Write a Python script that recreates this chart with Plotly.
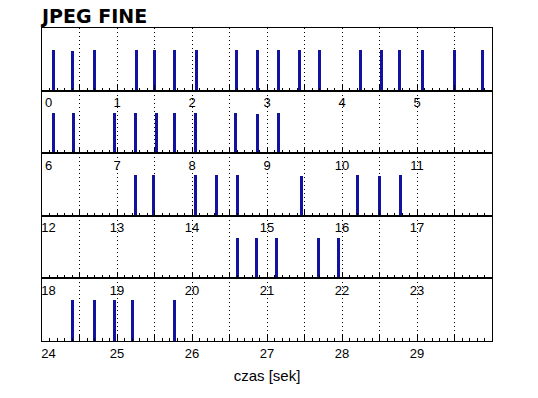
import plotly.graph_objects as go
from plotly.subplots import make_subplots

# Event times (seconds)
frame_times = [
    0.15, 0.41, 0.70, 1.26, 1.50, 1.76, 2.06, 2.59, 2.87, 3.15, 3.43, 3.70,
    4.24, 4.52, 4.77, 5.07, 5.50, 5.87,
    6.15, 6.42, 6.96, 7.24, 7.52, 7.76, 8.05, 8.58, 8.87, 9.15,
    13.24, 13.49, 14.04, 14.32, 14.60, 15.46, 16.20, 16.50, 16.78,
    20.60, 20.86, 21.13, 21.68, 21.95,
    24.40, 24.70, 24.96, 25.20, 25.76,
]
frame_heights = [
    1.0, 0.97, 1.0, 1.0, 1.0, 1.0, 1.0, 1.0, 1.0, 1.0, 1.0, 1.0,
    1.0, 1.0, 1.0, 1.0, 1.0, 1.0,
    1.0, 1.0, 1.0, 1.0, 1.0, 1.0, 1.0, 1.0, 0.97, 1.0,
    1.0, 1.0, 1.0, 1.0, 1.0, 0.97, 1.0, 0.98, 1.0,
    1.0, 1.0, 1.0, 1.0, 1.0,
    1.0, 1.0, 1.0, 1.0, 1.0,
]
row_starts = [0, 6, 12, 18, 24]
row_span = 6
title_text = "JPEG FINE"
x_title = "czas [sek]"
bar_color = "#1212a0"

fig = make_subplots(rows=5, cols=1, vertical_spacing=0)

for i, start in enumerate(row_starts):
    end = start + row_span
    xs = [t for t in frame_times if start <= t < end]
    ys = [h for t, h in zip(frame_times, frame_heights) if start <= t < end]
    fig.add_trace(
        go.Bar(x=xs, y=ys, width=0.04, marker=dict(color=bar_color, line=dict(width=0)),
               showlegend=False, hoverinfo="x"),
        row=i + 1, col=1,
    )
    tickvals = [start + k * 0.5 for k in range(row_span * 2)]
    ticktext = [str(int(v)) if float(v).is_integer() else "" for v in tickvals]
    # first label sits just right of the left edge, as in the original
    ticktext[0] = "\u2002\u2002" + ticktext[0]
    fig.update_xaxes(
        range=[start, end], tickmode="array", tickvals=tickvals, ticktext=ticktext,
        ticks="inside", ticklen=6, tickwidth=1, tickcolor="black",
        minor=dict(dtick=0.1, tick0=start, ticks="inside", ticklen=3, tickwidth=1,
                   tickcolor="black", showgrid=False),
        showgrid=True, gridcolor="black", gridwidth=1, griddash="1px,3px",
        showline=True, linecolor="black", linewidth=1, mirror=True,
        zeroline=False, automargin=False,
        tickfont=dict(family="Liberation Sans, Arial, sans-serif", size=13, color="black"),
        row=i + 1, col=1,
    )
    fig.update_yaxes(
        range=[0, 1.55], showticklabels=False, ticks="", showgrid=False, zeroline=False,
        showline=True, linecolor="black", linewidth=1, mirror=True, automargin=False,
        row=i + 1, col=1,
    )

fig.update_xaxes(title=dict(text=x_title, standoff=10,
                            font=dict(family="Liberation Sans, Arial, sans-serif", size=15, color="black")),
                 row=5, col=1)

fig.update_layout(
    width=538, height=398,
    margin=dict(l=42, r=46, t=28, b=57),
    paper_bgcolor="white", plot_bgcolor="white",
    bargap=0,
    title=dict(text="<b>" + title_text + "</b>", x=42 / 538, xanchor="left",
               y=1 - 16 / 398, yanchor="middle",
               font=dict(family="DejaVu Sans, Verdana, sans-serif", size=19, color="black")),
)

fig.write_html("out.html", config={"displayModeBar": False},
               post_script="document.body.style.margin='0';")
